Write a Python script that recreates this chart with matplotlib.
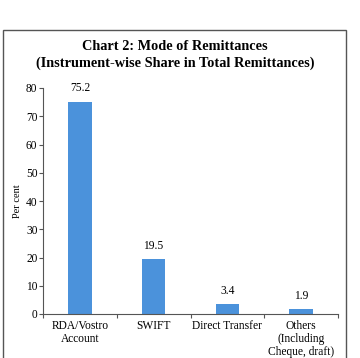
import matplotlib.pyplot as plt
from matplotlib.patches import Rectangle

categories = ["RDA/Vostro\nAccount", "SWIFT", "Direct Transfer", "Others\n(Including\nCheque, draft)"]
shares = [75.2, 19.5, 3.4, 1.9]
yticks = [0, 10, 20, 30, 40, 50, 60, 70, 80]

plt.rcParams['font.family'] = ['Liberation Serif', 'DejaVu Serif']

fig = plt.figure(figsize=(3.6, 3.58), dpi=100)

# outer frame
fig.patches.append(Rectangle((3 / 360, -0.05), 343 / 360, 1 - 30 / 358 + 0.05,
                             transform=fig.transFigure, fill=False,
                             edgecolor="#555555", linewidth=1.0))

fig.text(0.486, 1 - 46 / 358, "Chart 2: Mode of Remittances", ha="center", va="center",
         fontsize=10.3, fontweight="bold")
fig.text(0.486, 1 - 63 / 358, "(Instrument-wise Share in Total Remittances)", ha="center",
         va="center", fontsize=10.3, fontweight="bold")

ax = fig.add_axes([43 / 360, 1 - 314 / 358, (338 - 43) / 360, (314 - 88) / 358])
x = range(len(categories))
ax.bar(x, shares, width=0.32, color="#4B92DB")
for xi, v in zip(x, shares):
    ax.text(xi, v + 2.5, f"{v}", ha="center", va="bottom", fontsize=8.3)

ax.set_xlim(-0.5, 3.5)
ax.set_ylim(0, 80)
ax.set_yticks(yticks)
ax.tick_params(axis="y", labelsize=8.3, length=3, width=0.8, pad=1, color="#555555")
ax.set_xticks([-0.5, 0.5, 1.5, 2.5, 3.5])
ax.set_xticklabels([])
ax.tick_params(axis="x", length=3, width=0.8, color="#555555")
ax.set_xticks(list(x), minor=True)
ax.set_xticklabels(categories, minor=True, fontsize=8.3, linespacing=1.15)
ax.tick_params(axis="x", which="minor", length=0, pad=4)
for s in ["top", "right"]:
    ax.spines[s].set_visible(False)
for s in ["left", "bottom"]:
    ax.spines[s].set_color("#555555")
    ax.spines[s].set_linewidth(0.8)
ax.set_ylabel("Per cent", fontsize=7.5, labelpad=3)

fig.savefig("out.png", dpi=100)
